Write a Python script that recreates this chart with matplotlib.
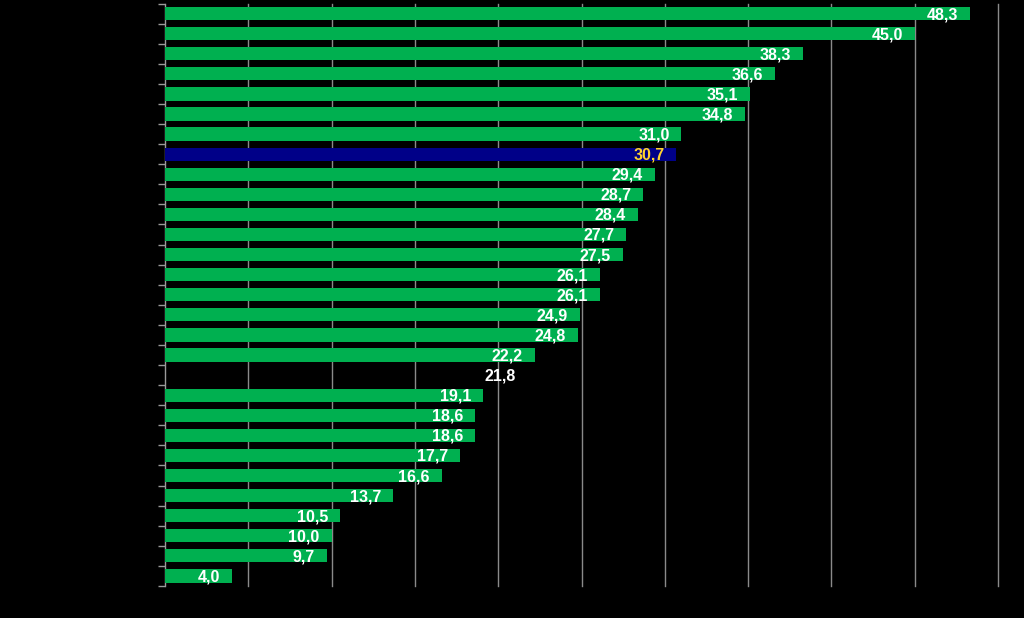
import matplotlib
matplotlib.use("Agg")
import matplotlib.pyplot as plt
import numpy as np

# Data (top to bottom)
values = [48.3, 45.0, 38.3, 36.6, 35.1, 34.8, 31.0, 30.7, 29.4, 28.7, 28.4, 27.7,
          27.5, 26.1, 26.1, 24.9, 24.8, 22.2, 21.8, 19.1, 18.6, 18.6, 17.7, 16.6,
          13.7, 10.5, 10.0, 9.7, 4.0]
categories = [str(i + 1) for i in range(len(values))]
highlight_index = 7      # navy bar
hidden_index = 18        # black (invisible) bar, label only

GREEN = "#00B050"
NAVY = "#000088"
YELLOW = "#FFD22E"

plt.rcParams['font.family'] = ['Liberation Sans', 'DejaVu Sans']

fig = plt.figure(figsize=(10.24, 6.18), dpi=100, facecolor="black")
ax = fig.add_axes([165 / 1024, 1 - 586 / 618, (998 - 165) / 1024, (586 - 3.5) / 618])
ax.set_facecolor("black")

n = len(values)
ypos = np.arange(n)
colors = []
for i in range(n):
    if i == highlight_index:
        colors.append(NAVY)
    elif i == hidden_index:
        colors.append("none")
    else:
        colors.append(GREEN)

ax.barh(ypos, values, height=0.66, color=colors, zorder=3)

for i, v in enumerate(values):
    txt = f"{v:.1f}".replace(".", ",")
    col = YELLOW if i == highlight_index else "white"
    ax.annotate(txt, xy=(v, ypos[i]), xytext=(-12, -1), textcoords="offset pixels",
                ha="right", va="center", color=col, fontsize=11.5, fontweight="bold",
                zorder=4)

ax.set_xlim(0, 50)
ax.set_ylim(n - 0.5, -0.5)

ax.set_xticks(np.arange(5, 51, 5))
ax.tick_params(axis="x", length=0, labelbottom=False)
ax.xaxis.grid(True, color="#8a8a8a", linewidth=1, zorder=0)
for gl in ax.get_xgridlines():
    gl.set_clip_on(False)

ax.set_yticks(np.arange(-0.5, n, 1.0))
ax.set_yticklabels([])
ax.tick_params(axis="y", length=5, color="#9a9a9a", width=1, direction="out")

for s in ["top", "right", "bottom"]:
    ax.spines[s].set_visible(False)
ax.spines["left"].set_color("#9a9a9a")
ax.spines["left"].set_linewidth(1)

fig.savefig("out.png", dpi=100, facecolor="black")
